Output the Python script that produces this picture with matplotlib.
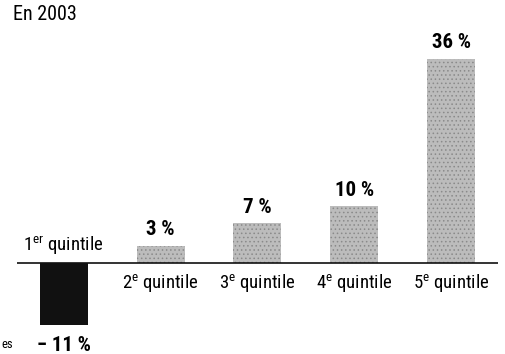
import matplotlib
matplotlib.use("Agg")
import matplotlib.pyplot as plt

# income growth by quintile, 2003
categories = ["1er", "2e", "3e", "4e", "5e"]
values = [-11, 3, 7, 10, 36]
value_labels = ["\u2212 11 %", "3 %", "7 %", "10 %", "36 %"]
title = "En 2003"

plt.rcParams["font.family"] = ["Roboto Condensed", "Roboto", "DejaVu Sans"]
plt.rcParams["mathtext.fontset"] = "custom"
plt.rcParams["mathtext.rm"] = "Roboto Condensed"
plt.rcParams["mathtext.bf"] = "Roboto Condensed:bold"
plt.rcParams["hatch.color"] = "#8a8a8a"
plt.rcParams["hatch.linewidth"] = 0.6

fig = plt.figure(figsize=(5.05, 3.54), dpi=100)
ax = fig.add_axes([0, 0, 1, 1])
ax.set_xlim(-0.655, 4.552)
ax.set_ylim(-16.05, 46.4)
ax.axis("off")

x = list(range(len(values)))
colors = ["#111111"] + ["#bcbcbc"] * (len(values) - 1)
hatches = [None] + ["...."] * (len(values) - 1)
bars = ax.bar(x, values, width=0.495, color=colors, linewidth=0, zorder=2)
for b, h in zip(bars, hatches):
    b.set_hatch(h)
ax.hlines(0, -0.48, 4.48, color="#111111", linewidth=1.2, zorder=3)

for i, (cat, v, lab) in enumerate(zip(categories, values, value_labels)):
    name = cat[0] + r"$^{\mathrm{" + cat[1:] + "}}$ quintile"
    if v < 0:
        ax.text(i, 1.0, name, ha="center", va="bottom", fontsize=13.5)
        ax.text(i, v - 1.9, lab, ha="center", va="top", fontsize=15,
                fontweight="bold")
    else:
        ax.text(i, -1.6, name, ha="center", va="top", fontsize=13.5)
        ax.text(i, v + 1.2, lab, ha="center", va="bottom", fontsize=15,
                fontweight="bold")

fig.text(13 / 505, 1 - 14 / 354, title, ha="left", va="center", fontsize=14.5)
fig.text(1 / 505, 1 - 344 / 354, "es", ha="left", va="center", fontsize=9)

fig.savefig("out.png", dpi=100)
